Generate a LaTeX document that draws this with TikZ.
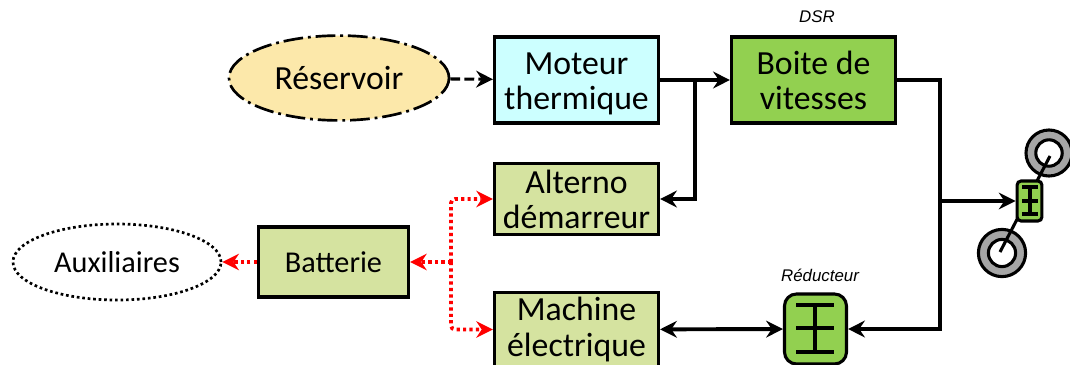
\documentclass[tikz,border=0pt]{standalone}
\usepackage{fontspec}
\setmainfont{Carlito}
\newfontfamily\labelfont{Liberation Sans}
\usetikzlibrary{arrows.meta,shapes.geometric}
\definecolor{cyanbox}{RGB}{204,255,255}
\definecolor{greenbox}{RGB}{146,208,80}
\definecolor{palebox}{RGB}{213,227,160}
\definecolor{tankfill}{RGB}{252,232,170}
\definecolor{wheelgray}{RGB}{166,166,166}
\newcommand{\lowered}[2]{\raisebox{-#1}[\height][\depth]{#2}}
\tikzset{
  blockbox/.style={draw,line width=2.2pt,minimum width=4.1cm,minimum height=2.15cm,align=center,font=\fontsize{24}{25}\selectfont},
  smallbox/.style={blockbox,minimum height=1.77cm},
  reducbox/.style={draw,line width=2.2pt,fill=greenbox,rounded corners=0.3cm,inner sep=0pt},
  tip/.style={-{Stealth[length=0.42cm,width=0.42cm,inset=0.14cm]}},
  bus/.style={line width=2.8pt,tip},
  elec/.style={red,line width=2.7pt,dash pattern=on 2.3pt off 2.3pt,rounded corners=0.1cm,-{Stealth[length=0.42cm,width=0.42cm,inset=0.14cm,line width=0pt]}},
  gear/.style={line width=2.3pt},
  wheel/.style={draw,line width=2.2pt,circle,fill=wheelgray,inner sep=0pt},
  caption/.style={font=\labelfont\itshape\fontsize{12}{14}\selectfont}
}
\begin{document}
\begin{tikzpicture}[x=0.025cm,y=-0.025cm]
\useasboundingbox (0,0) rectangle (1070,364);
% storage and engine line
\node[draw,ellipse,line width=1.9pt,fill=tankfill,dash pattern=on 14pt off 3.5pt on 2pt off 3.5pt,minimum width=5.5cm,minimum height=2.12cm,font=\fontsize{24}{25}\selectfont] (tank) at (339,78) {Réservoir};
\node[blockbox,fill=cyanbox] (engine) at (576.5,80) {\lowered{2.5pt}{Moteur}\\\lowered{2.5pt}{thermique}};
\node[blockbox,fill=greenbox] (gearbox) at (813.5,80) {Boite de\\vitesses};
\node[caption] (dsr) at (817,17) {DSR};
% electric side
\node[smallbox,fill=palebox] (starter) at (576.5,199) {Alterno\\démarreur};
\node[smallbox,fill=palebox] (machine) at (576.5,329.5) {Machine\\électrique};
\node[draw,line width=2.2pt,fill=palebox,minimum width=3.75cm,minimum height=1.75cm,font=\fontsize{21.5}{22}\selectfont] (battery) at (333.5,262) {Batterie};
\node[draw,ellipse,line width=1.9pt,dotted,minimum width=5.2cm,minimum height=1.9cm,font=\fontsize{21.5}{22}\selectfont] (aux) at (117,262) {Auxiliaires};
% reducer
\node[reducbox,minimum width=1.55cm,minimum height=1.75cm] (reducer) at (815.5,329) {};
\node[caption] (redlabel) at (820,275) {Réducteur};
\draw[gear] (796,305)--(834,305); \draw[gear] (796,328)--(834,328); \draw[gear] (796,352)--(834,352); \draw[gear] (815,305)--(815,352);
% wheels and axle
\node[wheel,minimum size=1.15cm] (wheeltop) at (1049,153) {};
\node[wheel,minimum size=1.18cm] (wheelbot) at (1002,253) {};
\node[draw,line width=2.2pt,circle,fill=white,inner sep=0pt,minimum size=0.66cm] (hubtop) at (wheeltop) {};
\node[draw,line width=2.2pt,circle,fill=white,inner sep=0pt,minimum size=0.68cm] (hubbot) at (wheelbot) {};
\coordinate (axletop) at (1050,156); \coordinate (axlebot) at (1000,252);
\draw[line width=2.2pt] (axlebot)--(axletop);
\node[reducbox,rounded corners=0.1cm,minimum width=0.62cm,minimum height=1cm] (diff) at (1029.5,201) {};
\draw[gear] (1022,187)--(1038,187); \draw[gear] (1022,201)--(1038,201); \draw[gear] (1022,214)--(1038,214); \draw[gear] (1030,187)--(1030,214);
% junctions
\coordinate (j1) at (695,80); \coordinate (j2) at (940,201); \coordinate (j3) at (451,262);
% mechanical links
\draw[line width=2.2pt,dash pattern=on 7pt off 3pt,tip] (tank)--(engine);
\draw[bus] (engine)--(gearbox);
\draw[bus] (j1)|-(starter);
\draw[bus] (gearbox.east)-|(j2)|-(reducer);
\draw[bus] (j2)--(diff);
\draw[bus,{Stealth[length=0.42cm,width=0.42cm,inset=0.14cm]}-{Stealth[length=0.42cm,width=0.42cm,inset=0.14cm]}] (machine)--(reducer);
% electric links
\draw[elec,line width=3.4pt] (j3)--(battery);
\draw[elec] (j3)|-(starter);
\draw[elec] (j3)|-(machine);
\draw[elec] (battery)--(aux);
\end{tikzpicture}
\end{document}
